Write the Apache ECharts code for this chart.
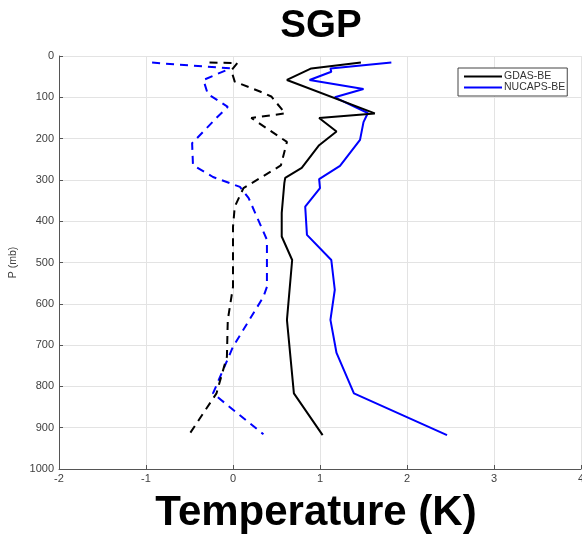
<!DOCTYPE html>
<html>
<head>
<meta charset="utf-8">
<script src="https://cdn.jsdelivr.net/npm/echarts@6/dist/echarts.min.js"></script>
<style>html,body{margin:0;padding:0;background:#fff;overflow:hidden;}#chart{width:582px;height:536px;}</style>
</head>
<body>
<div id="chart"></div>
<script>
// Pressure levels (mb) and temperature differences (K)
var gdasP  = [16, 30, 58, 139, 150, 183, 216, 271, 295, 308, 380, 437, 494, 639, 817, 918];
var gdasT  = [1.47, 0.90, 0.62, 1.63, 0.99, 1.19, 0.99, 0.79, 0.60, 0.59, 0.56, 0.56, 0.68, 0.62, 0.70, 1.03];

var nucapsP = [16, 30, 38, 58, 80, 100, 138, 160, 203, 266, 298, 320, 365, 433, 494, 566, 639, 719, 817, 918];
var nucapsT = [1.82, 1.12, 1.13, 0.88, 1.50, 1.17, 1.55, 1.50, 1.46, 1.23, 0.99, 1.00, 0.83, 0.85, 1.13, 1.17, 1.12, 1.19, 1.39, 2.46];

var gdasDashP = [16, 17, 35, 62, 86, 98, 139, 150, 208, 265, 320, 365, 414, 559, 639, 728, 817, 912];
var gdasDashT = [-0.27, 0.05, -0.02, 0.02, 0.31, 0.44, 0.60, 0.21, 0.62, 0.55, 0.12, 0.02, 0.00, 0.00, -0.06, -0.07, -0.19, -0.49];

var nucapsDashP = [16, 30, 58, 92, 123, 150, 211, 264, 293, 317, 344, 445, 559, 583, 704, 817, 916];
var nucapsDashT = [-0.93, -0.03, -0.34, -0.29, -0.06, -0.19, -0.47, -0.46, -0.23, 0.08, 0.18, 0.39, 0.39, 0.35, 0.00, -0.23, 0.35];

var xTicks = [-2, -1, 0, 1, 2, 3, 4];
var yTicks = [0, 100, 200, 300, 400, 500, 600, 700, 800, 900, 1000];

function pairs(t, p) { return t.map(function (v, i) { return [v, p[i]]; }); }

var chart = echarts.init(document.getElementById('chart'), null, {renderer: 'canvas', width: 582, height: 536});
var axisCol = '#555';
var labelCol = '#404040';
chart.setOption({
  animation: false,
  backgroundColor: '#fff',
  title: [
    {text: 'SGP', left: 316, top: 2, textAlign: 'center',
     textStyle: {fontFamily: 'Liberation Sans', fontWeight: 'bold', fontSize: 38.5, color: '#000'}},
    {text: 'Temperature (K)', left: 311, top: 487, textAlign: 'center',
     textStyle: {fontFamily: 'Liberation Sans', fontWeight: 'bold', fontSize: 42, color: '#000'}}
  ],
  legend: {
    data: ['GDAS-BE', 'NUCAPS-BE'],
    orient: 'vertical',
    left: 458, top: 68,
    icon: 'rect',
    itemWidth: 38, itemHeight: 2, itemGap: 0,
    padding: [3, 2, 3, 6],
    borderColor: '#444', borderWidth: 1,
    backgroundColor: '#fff',
    textStyle: {fontFamily: 'Liberation Sans', fontSize: 10.5, lineHeight: 11, color: '#333', padding: [0, 0, 0, -3]}
  },
  grid: {left: 59, width: 522, top: 56, height: 413, containLabel: false, outerBoundsMode: 'none'},
  xAxis: {
    type: 'value', min: -2, max: 4, interval: 1,
    axisLine: {show: true, onZero: false, lineStyle: {color: axisCol, width: 1}},
    axisTick: {show: true, inside: true, length: 4, lineStyle: {color: axisCol}},
    axisLabel: {color: labelCol, fontFamily: 'Liberation Sans', fontSize: 11, margin: 4},
    splitLine: {show: true, lineStyle: {color: '#e3e3e3', width: 1}}
  },
  yAxis: {
    type: 'value', min: 0, max: 1000, interval: 100, inverse: true,
    name: 'P (mb)', nameLocation: 'middle', nameGap: 27, nameRotate: 90,
    nameTextStyle: {color: labelCol, fontFamily: 'Liberation Sans', fontSize: 10.5},
    axisLine: {show: true, onZero: false, lineStyle: {color: axisCol, width: 1}},
    axisTick: {show: true, inside: true, length: 4, lineStyle: {color: axisCol}},
    axisLabel: {color: labelCol, fontFamily: 'Liberation Sans', fontSize: 11, margin: 5,
                formatter: function (v) { return String(v); }},
    splitLine: {show: true, lineStyle: {color: '#e3e3e3', width: 1}}
  },
  series: [
    {name: 'GDAS-BE', type: 'line', data: pairs(gdasT, gdasP), symbol: 'none',
     lineStyle: {color: '#000', width: 2}, itemStyle: {color: '#000'}, z: 3},
    {name: 'NUCAPS-BE', type: 'line', data: pairs(nucapsT, nucapsP), symbol: 'none',
     lineStyle: {color: '#0000ff', width: 2}, itemStyle: {color: '#0000ff'}, z: 2},
    {name: 'GDAS-BE dashed', type: 'line', data: pairs(gdasDashT, gdasDashP), symbol: 'none',
     lineStyle: {color: '#000', width: 2, type: [8, 6]}, itemStyle: {color: '#000'}, z: 3},
    {name: 'NUCAPS-BE dashed', type: 'line', data: pairs(nucapsDashT, nucapsDashP), symbol: 'none',
     lineStyle: {color: '#0000ff', width: 2, type: [8, 6]}, itemStyle: {color: '#0000ff'}, z: 2}
  ]
});
</script>
</body>
</html>
